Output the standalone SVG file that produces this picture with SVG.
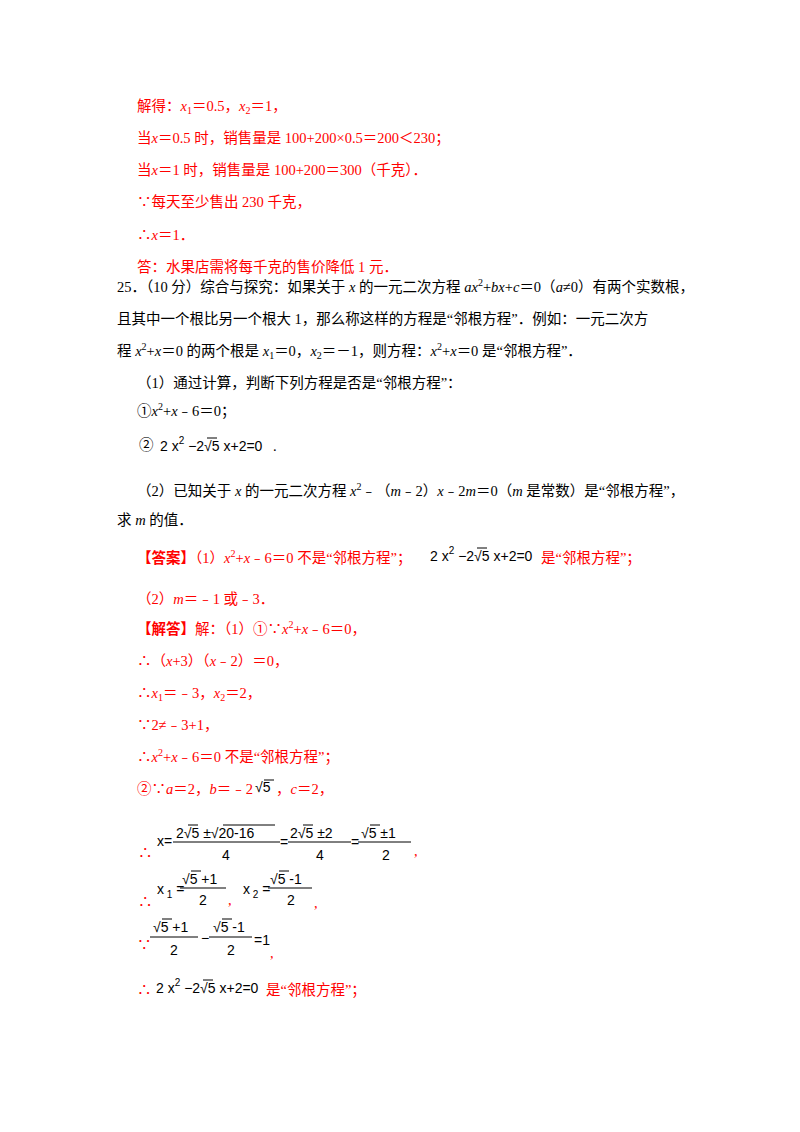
<svg xmlns="http://www.w3.org/2000/svg" width="800" height="1132" viewBox="0 0 800 1132">
<style>
text{font-family:"Liberation Serif","Noto Sans CJK SC",serif;font-size:14.5px;fill:#000}
.r{fill:#ff0000}
.i{font-style:italic}
.m{font-family:"Liberation Sans","Noto Sans CJK SC",sans-serif;font-size:14px;fill:#000}
.s{font-size:10px}
line{stroke:#000;stroke-width:1}
.b{font-weight:bold}
</style>
<rect width="800" height="1132" fill="#fff"/>
<text class="r" x="137" y="111">解得：<tspan class="i">x</tspan><tspan class="s" dy="3">1</tspan><tspan dy="-3">＝0.5，</tspan><tspan class="i">x</tspan><tspan class="s" dy="3">2</tspan><tspan dy="-3">＝1，</tspan></text>
<text class="r" x="137" y="143">当<tspan class="i">x</tspan>＝0.5 时，销售量是 100+200×0.5＝200＜230；</text>
<text class="r" x="137" y="175">当<tspan class="i">x</tspan>＝1 时，销售量是 100+200＝300（千克）．</text>
<text class="r" x="137" y="207">∵每天至少售出 230 千克，</text>
<text class="r" x="137" y="240">∴<tspan class="i">x</tspan>＝1．</text>
<text class="r" x="137" y="272">答：水果店需将每千克的售价降低 1 元．</text>
<text x="117" y="292">25．（10 分）综合与探究：如果关于 <tspan class="i">x</tspan> 的一元二次方程 <tspan class="i">ax</tspan><tspan class="s" dy="-6">2</tspan><tspan dy="6">+</tspan><tspan class="i">bx</tspan>+<tspan class="i">c</tspan>＝0（<tspan class="i">a</tspan>≠0）有两个实数根，</text>
<text x="117" y="324">且其中一个根比另一个根大 1，那么称这样的方程是“邻根方程”．例如：一元二次方</text>
<text x="117" y="356">程 <tspan class="i">x</tspan><tspan class="s" dy="-6">2</tspan><tspan dy="6">+</tspan><tspan class="i">x</tspan>＝0 的两个根是 <tspan class="i">x</tspan><tspan class="s" dy="3">1</tspan><tspan dy="-3">＝0，</tspan><tspan class="i">x</tspan><tspan class="s" dy="3">2</tspan><tspan dy="-3">＝－1，则方程：</tspan><tspan class="i">x</tspan><tspan class="s" dy="-6">2</tspan><tspan dy="6">+</tspan><tspan class="i">x</tspan>＝0 是“邻根方程”．</text>
<text x="137" y="388">（1）通过计算，判断下列方程是否是“邻根方程”：</text>
<text x="137" y="416">①<tspan class="i">x</tspan><tspan class="s" dy="-6">2</tspan><tspan dy="6">+</tspan><tspan class="i">x</tspan>﹣6＝0；</text>
<text x="139" y="450">②</text>
<text class="m" x="160" y="451">2 x<tspan class="s" dy="-7">2</tspan><tspan dy="7"> −2√5 x+2=0</tspan></text>
<line x1="207" y1="438" x2="217" y2="438"/>
<text x="273" y="451">.</text>
<text x="137" y="496">（2）已知关于 <tspan class="i">x</tspan> 的一元二次方程 <tspan class="i">x</tspan><tspan class="s" dy="-6">2</tspan><tspan dy="6">﹣（</tspan><tspan class="i">m</tspan>﹣2）<tspan class="i">x</tspan>﹣2<tspan class="i">m</tspan>＝0（<tspan class="i">m</tspan> 是常数）是“邻根方程”，</text>
<text x="117" y="525">求 <tspan class="i">m</tspan> 的值．</text>
<text class="r" x="137" y="563"><tspan class="b">【答案】</tspan>（1）<tspan class="i">x</tspan><tspan class="s" dy="-6">2</tspan><tspan dy="6">+</tspan><tspan class="i">x</tspan>﹣6＝0 不是“邻根方程”；</text>
<text class="m" x="430" y="561">2 x<tspan class="s" dy="-7">2</tspan><tspan dy="7"> −2√5 x+2=0</tspan></text>
<line x1="477" y1="548" x2="487" y2="548"/>
<text class="r" x="541" y="563">是“邻根方程”；</text>
<text class="r" x="137" y="604">（2）<tspan class="i">m</tspan>＝﹣1 或﹣3．</text>
<text class="r" x="137" y="634"><tspan class="b">【解答】</tspan>解：（1）①∵<tspan class="i">x</tspan><tspan class="s" dy="-6">2</tspan><tspan dy="6">+</tspan><tspan class="i">x</tspan>﹣6＝0，</text>
<text class="r" x="137" y="666">∴（<tspan class="i">x</tspan>+3）（<tspan class="i">x</tspan>﹣2）＝0，</text>
<text class="r" x="137" y="698">∴<tspan class="i">x</tspan><tspan class="s" dy="3">1</tspan><tspan dy="-3">＝﹣3，</tspan><tspan class="i">x</tspan><tspan class="s" dy="3">2</tspan><tspan dy="-3">＝2，</tspan></text>
<text class="r" x="137" y="730">∵2≠﹣3+1，</text>
<text class="r" x="137" y="762">∴<tspan class="i">x</tspan><tspan class="s" dy="-6">2</tspan><tspan dy="6">+</tspan><tspan class="i">x</tspan>﹣6＝0 不是“邻根方程”；</text>
<text class="r" x="137" y="794">②∵<tspan class="i">a</tspan>＝2，<tspan class="i">b</tspan>＝﹣2</text>
<text class="m" x="255" y="792">√5</text>
<line x1="264" y1="780" x2="274" y2="780"/>
<text class="r" x="276" y="794">，<tspan class="i">c</tspan>＝2，</text>
<!-- line 1 -->
<text class="r" x="138" y="858">∴</text>
<text class="m" x="157" y="846">x=</text>
<text class="m" x="176" y="838">2√5 ±√20-16</text>
<line x1="188" y1="825" x2="198" y2="825"/><line x1="223" y1="825" x2="275" y2="825"/>
<line x1="173" y1="842" x2="280" y2="842"/>
<text class="m" x="222" y="860">4</text>
<text class="m" x="280" y="847">=</text>
<text class="m" x="290" y="838">2√5 ±2</text>
<line x1="303" y1="825" x2="313" y2="825"/>
<line x1="288" y1="842" x2="351" y2="842"/>
<text class="m" x="316" y="860">4</text>
<text class="m" x="351" y="847">=</text>
<text class="m" x="361" y="838">√5 ±1</text>
<line x1="370" y1="825" x2="380" y2="825"/>
<line x1="358" y1="842" x2="411" y2="842"/>
<text class="m" x="382" y="860">2</text>
<text class="r" x="414" y="856">,</text>
<!-- line 2 -->
<text class="r" x="138" y="907">∴</text>
<text class="m" x="157" y="894">x<tspan class="s" dy="4"> 1</tspan><tspan dy="-4"> =</tspan></text>
<text class="m" x="182" y="884">√5 +1</text>
<line x1="191" y1="871" x2="201" y2="871"/>
<line x1="180" y1="888" x2="226" y2="888"/>
<text class="m" x="199" y="905">2</text>
<text class="r" x="228" y="905">,</text>
<text class="m" x="243" y="894">x<tspan class="s" dy="4"> 2</tspan><tspan dy="-4"> =</tspan></text>
<text class="m" x="270" y="884">√5 -1</text>
<line x1="279" y1="871" x2="289" y2="871"/>
<line x1="268" y1="888" x2="312" y2="888"/>
<text class="m" x="287" y="905">2</text>
<text class="r" x="314" y="908">,</text>
<!-- line 3 -->
<text class="r" x="137" y="950">∵</text>
<text class="m" x="153" y="932">√5 +1</text>
<line x1="162" y1="919" x2="172" y2="919"/>
<line x1="150" y1="937" x2="198" y2="937"/>
<text class="m" x="170" y="955">2</text>
<text class="m" x="201" y="943">−</text>
<text class="m" x="213" y="932">√5 -1</text>
<line x1="222" y1="919" x2="232" y2="919"/>
<line x1="209" y1="937" x2="252" y2="937"/>
<text class="m" x="227" y="955">2</text>
<text class="m" x="254" y="945">=1</text>
<text class="r" x="270" y="958">,</text>
<!-- line 4 -->
<text class="r" x="137" y="995">∴</text>
<text class="m" x="156" y="993">2 x<tspan class="s" dy="-7">2</tspan><tspan dy="7"> −2√5 x+2=0</tspan></text>
<line x1="203" y1="980" x2="213" y2="980"/>
<text class="r" x="266" y="995">是“邻根方程”；</text>
</svg>
